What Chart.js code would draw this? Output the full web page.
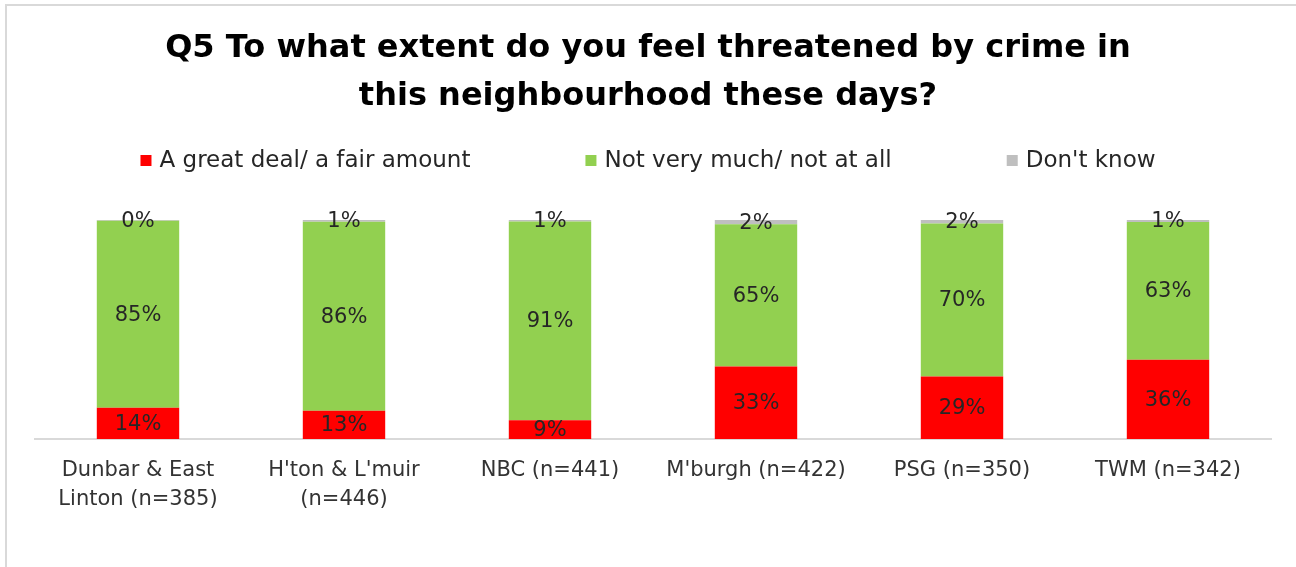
<!DOCTYPE html>
<html>
<head>
<meta charset="utf-8">
<script src="https://cdn.jsdelivr.net/npm/chart.js@4"></script>
<style>
    html, body { margin: 0; padding: 0; background: #fff; }
    #wrap { position: relative; width: 1296px; height: 567px; overflow: hidden; }
    #frame { position: absolute; left: 5px; top: 4px; right: -10px; bottom: -10px;
             border-top: 2px solid #d9d9d9; border-left: 2px solid #d9d9d9; pointer-events: none; }
    canvas { position: absolute; left: 0; top: 0; }
</style>
</head>
<body>
<div id="wrap">
    <canvas id="chart" width="1296" height="567"></canvas>
    <div id="frame"></div>
</div>
<script>
const FONT = '"DejaVu Sans", sans-serif';

const titleLines = ['Q5 To what extent do you feel threatened by crime in', 'this neighbourhood these days?'];
const categories = [
    ['Dunbar & East', 'Linton (n=385)'],
    ["H'ton & L'muir", '(n=446)'],
    'NBC (n=441)',
    "M'burgh (n=422)",
    'PSG (n=350)',
    'TWM (n=342)'
];
const seriesNames = ['A great deal/ a fair amount', 'Not very much/ not at all', "Don't know"];
const greatDeal = [14.3, 12.9, 8.6, 33.1, 28.6, 36.2];
const notVeryMuch = [85.4, 86.3, 90.7, 65.0, 69.8, 62.9];
const dontKnow = [0.3, 0.8, 0.7, 1.9, 1.6, 0.9];
const seriesColors = ['#FF0000', '#92D050', '#BFBFBF'];

// title + legend drawn in the reserved top padding
const header = {
    id: 'header',
    afterDraw(chart) {
        const ctx = chart.ctx;
        const mid = chart.width / 2;
        ctx.save();
        ctx.fillStyle = '#000';
        ctx.textAlign = 'center';
        ctx.textBaseline = 'middle';
        ctx.font = 'bold 32px ' + FONT;
        titleLines.forEach((t, i) => ctx.fillText(t, mid, 49 + i * 48));

        ctx.font = '23px ' + FONT;
        ctx.textAlign = 'left';
        const box = 11, gap = 8, spacing = 115;
        const widths = chart.data.datasets.map(ds => box + gap + ctx.measureText(ds.label).width);
        const total = widths.reduce((a, b) => a + b, 0) + spacing * (widths.length - 1);
        let x = mid - total / 2;
        const y = 161;
        chart.data.datasets.forEach((ds, i) => {
            ctx.fillStyle = ds.backgroundColor;
            ctx.fillRect(x, y - 6, box, box);
            ctx.fillStyle = '#262626';
            ctx.fillText(ds.label, x + box + gap, y);
            x += widths[i] + spacing;
        });
        ctx.restore();
    }
};

const barLabels = {
    id: 'barLabels',
    afterDatasetsDraw(chart) {
        const ctx = chart.ctx;
        ctx.save();
        ctx.font = '21px ' + FONT;
        ctx.fillStyle = '#262626';
        ctx.textAlign = 'center';
        ctx.textBaseline = 'middle';
        chart.data.datasets.forEach((ds, i) => {
            chart.getDatasetMeta(i).data.forEach((bar, j) => {
                const p = bar.getProps(['x', 'y', 'base'], true);
                ctx.fillText(Math.round(ds.data[j]) + '%', p.x, (p.y + p.base) / 2 + 1);
            });
        });
        ctx.restore();
    }
};

new Chart(document.getElementById('chart'), {
    type: 'bar',
    data: {
        labels: categories,
        datasets: [
            { label: seriesNames[0], data: greatDeal, backgroundColor: seriesColors[0] },
            { label: seriesNames[1], data: notVeryMuch, backgroundColor: seriesColors[1] },
            { label: seriesNames[2], data: dontKnow, backgroundColor: seriesColors[2] }
        ]
    },
    options: {
        responsive: false,
        animation: false,
        layout: { padding: { top: 220, left: 35, right: 25, bottom: 36 } },
        datasets: { bar: { categoryPercentage: 1, barPercentage: 0.4 } },
        plugins: {
            legend: { display: false },
            title: { display: false },
            tooltip: { enabled: false }
        },
        scales: {
            x: {
                stacked: true,
                grid: { display: false, drawTicks: false },
                border: { display: true, color: '#d9d9d9', width: 2 },
                ticks: {
                    color: '#333',
                    font: { family: FONT, size: 21, lineHeight: 1.38 },
                    padding: 17,
                    maxRotation: 0,
                    autoSkip: false
                }
            },
            y: {
                stacked: true,
                display: false,
                min: 0,
                max: 100
            }
        }
    },
    plugins: [header, barLabels]
});
</script>
</body>
</html>
